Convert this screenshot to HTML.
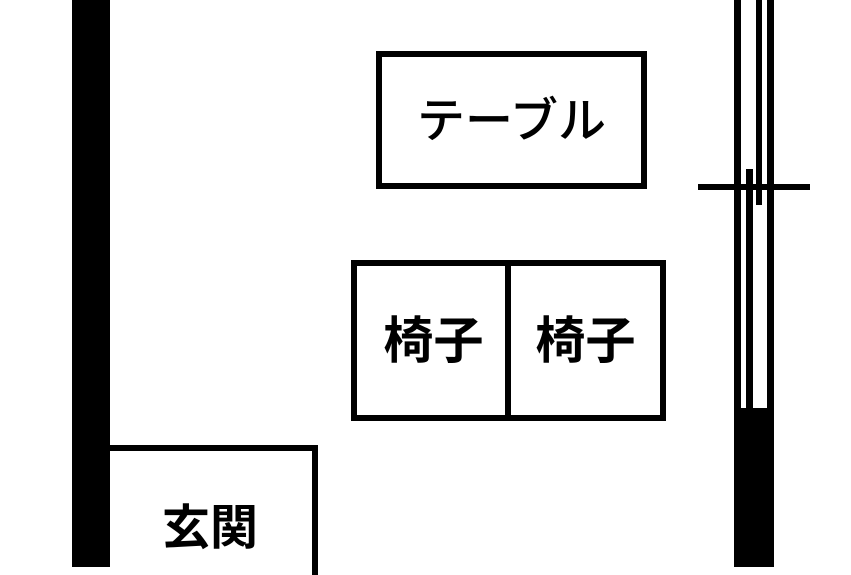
<!DOCTYPE html>
<html><head><meta charset="utf-8"><style>
html,body{margin:0;padding:0;background:#fff;}
body{width:851px;height:567px;position:relative;overflow:hidden;font-family:"Liberation Sans","Noto Sans CJK JP",sans-serif;}
.b{position:absolute;background:#000;}
.r{position:absolute;border:6px solid #000;box-sizing:border-box;}
.t{position:absolute;font-weight:700;color:#000;text-align:center;line-height:1;white-space:nowrap;}
</style></head><body>
<div class="b" style="left:72px;top:0;width:38px;height:567px"></div>
<div class="r" style="left:104px;top:445px;width:214px;height:130px;border-left:none;border-bottom:none"></div>
<div class="t" style="left:110px;top:505px;width:200px;font-size:48px">玄関</div>

<div class="r" style="left:376px;top:51px;width:271px;height:138px"></div>
<div class="t" style="left:376px;top:98px;width:271px;font-size:48px;font-weight:500">テーブル</div>

<div class="r" style="left:351px;top:260px;width:315px;height:161px"></div>
<div class="b" style="left:505px;top:260px;width:6px;height:161px"></div>
<div class="t" style="left:355px;top:316px;width:157px;font-size:50px">椅子</div>
<div class="t" style="left:508px;top:316px;width:155px;font-size:50px">椅子</div>

<div class="b" style="left:734px;top:0;width:7px;height:567px"></div>
<div class="b" style="left:767px;top:0;width:7px;height:567px"></div>
<div class="b" style="left:756px;top:0;width:6px;height:205px"></div>
<div class="b" style="left:746px;top:169px;width:7px;height:240px"></div>
<div class="b" style="left:734px;top:408px;width:40px;height:159px"></div>
<div class="b" style="left:698px;top:184px;width:112px;height:6px"></div>
</body></html>
